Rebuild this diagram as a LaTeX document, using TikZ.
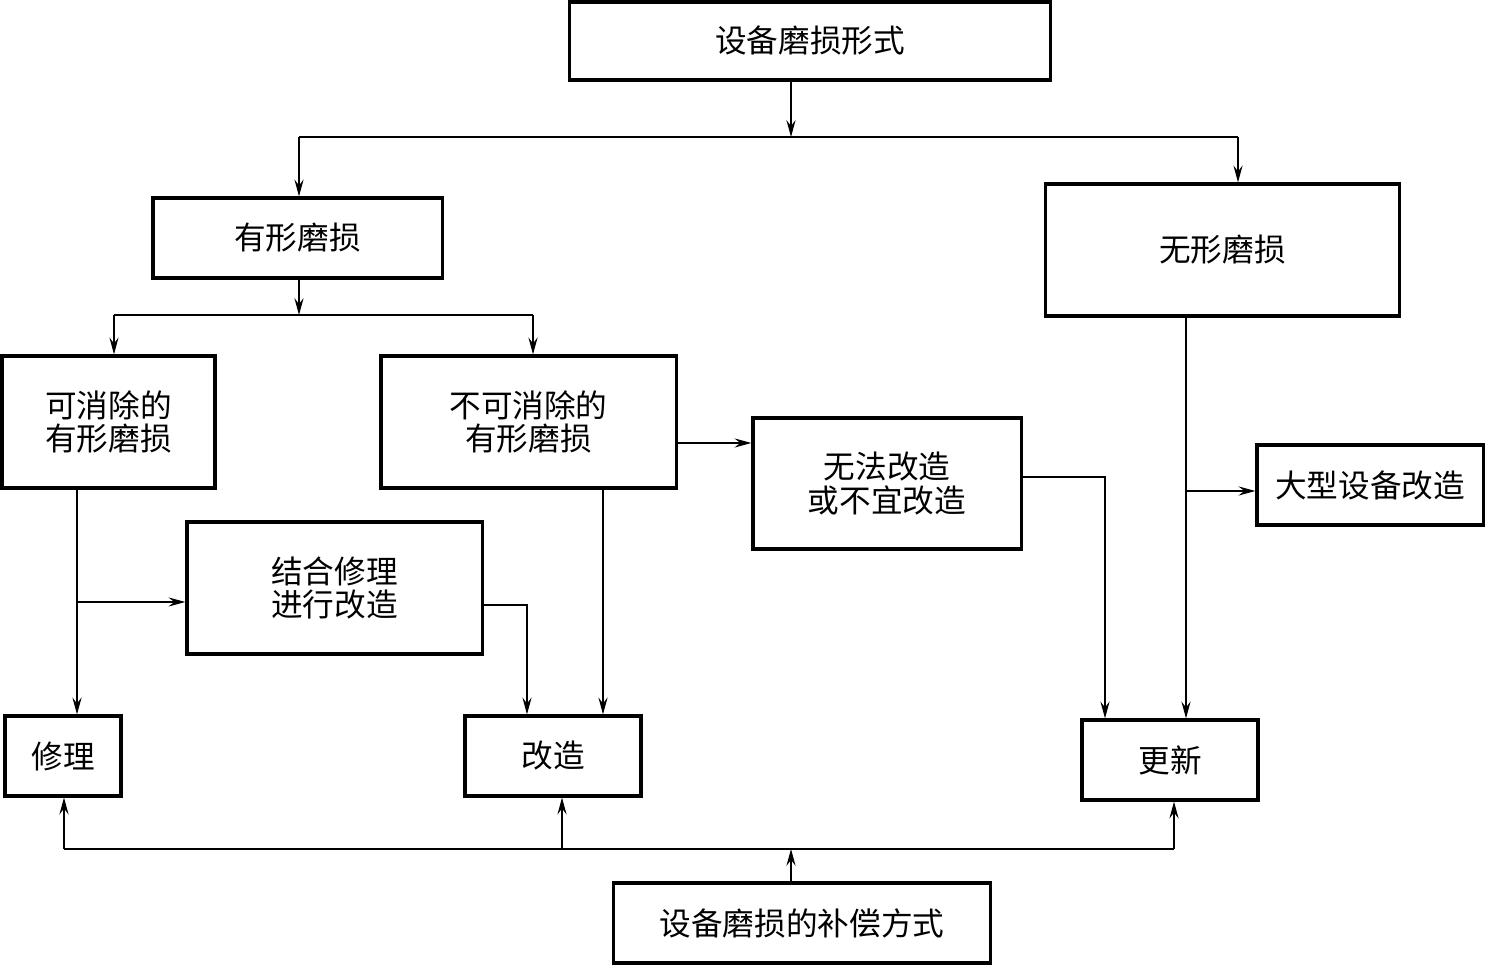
\documentclass[tikz,border=0pt]{standalone}
\usepackage{fontspec}
\newfontfamily\cjk{Noto Sans CJK SC}
\usetikzlibrary{arrows.meta,calc}
\tikzset{
    box/.style = {draw, line width=0.9pt, inner sep=0pt, align=center,
        font=\cjk\fontsize{9pt}{9.6pt}\selectfont},
    wire/.style = {line width=0.35pt},
    conn/.style = {wire, -{Stealth[length=4.8pt,width=2.6pt,inset=1.7pt]}},
}

\begin{document}
\begin{tikzpicture}[x=0.01cm, y=-0.01cm]
\useasboundingbox (0,0) rectangle (1485,965);

% boxes
\node[box, minimum width=4.8cm, minimum height=0.78cm] (form) at (810,41) {设备磨损形式};
\node[box, minimum width=2.89cm, minimum height=0.8cm] (tangible) at (297.5,238) {有形磨损};
\node[box, minimum width=3.53cm, minimum height=1.32cm] (intangible) at (1222.5,250) {无形磨损};
\node[box, minimum width=2.13cm, minimum height=1.32cm] (removable) at (108.5,422) {可消除的\\有形磨损};
\node[box, minimum width=2.95cm, minimum height=1.32cm] (fixed) at (528.5,422) {不可消除的\\有形磨损};
\node[box, minimum width=2.68cm, minimum height=1.31cm] (nomod) at (887,483.5) {无法改造\\或不宜改造};
\node[box, minimum width=2.26cm, minimum height=0.8cm] (bigmod) at (1370,485) {大型设备改造};
\node[box, minimum width=2.95cm, minimum height=1.32cm] (repmod) at (334.5,588) {结合修理\\进行改造};
\node[box, minimum width=1.16cm, minimum height=0.8cm] (repair) at (63,756) {修理};
\node[box, minimum width=1.76cm, minimum height=0.8cm] (modify) at (553,756) {改造};
\node[box, minimum width=1.76cm, minimum height=0.8cm] (renew) at (1170,760) {更新};
\node[box, minimum width=3.76cm, minimum height=0.8cm] (comp) at (802,923) {设备磨损的补偿方式};

% top split
\coordinate (jtop) at (791,137);
\coordinate (jtopL) at (299,137);
\coordinate (jtopR) at (1238,137);
\draw[conn] (form.south -| jtop) -- (jtop);
\draw[wire] (jtopL) -- (jtopR);
\draw[conn] (jtopL) -- (tangible.north -| jtopL);
\draw[conn] (jtopR) -- (intangible.north -| jtopR);

% tangible split
\coordinate (jtan) at (299,315);
\coordinate (jtanL) at (114,315);
\coordinate (jtanR) at (533,315);
\draw[conn] (tangible.south -| jtan) -- (jtan);
\draw[wire] (jtanL) -- (jtanR);
\draw[conn] (jtanL) -- (removable.north -| jtanL);
\draw[conn] (jtanR) -- (fixed.north -| jtanR);

% removable
\coordinate (jrem) at (77,602);
\draw[conn] (removable.south -| jrem) -- (repair.north -| jrem);
\draw[conn] (jrem) -- (repmod.west |- jrem);
\draw[conn] (repmod.east |- 0,605) -| (modify.north -| 527,0);

% not removable
\draw[conn] (fixed.south -| 603,0) -- (modify.north -| 603,0);
\draw[conn] (fixed.east |- 0,443) -- (nomod.west |- 0,443);
\draw[conn] (nomod.east |- 0,477) -| (renew.north -| 1105,0);

% intangible
\coordinate (jint) at (1186,491);
\draw[conn] (intangible.south -| jint) -- (renew.north -| jint);
\draw[conn] (jint) -- (bigmod.west |- jint);

% compensation
\coordinate (jbot) at (791,849);
\coordinate (jbotL) at (64,849);
\coordinate (jbotM) at (562,849);
\coordinate (jbotR) at (1174,849);
\draw[conn] (comp.north -| jbot) -- (jbot);
\draw[line width=0.7pt] (jbotL) -- (jbotR);
\draw[conn] (jbotL) -- (repair.south -| jbotL);
\draw[conn] (jbotM) -- (modify.south -| jbotM);
\draw[conn] (jbotR) -- (renew.south -| jbotR);
\end{tikzpicture}
\end{document}
